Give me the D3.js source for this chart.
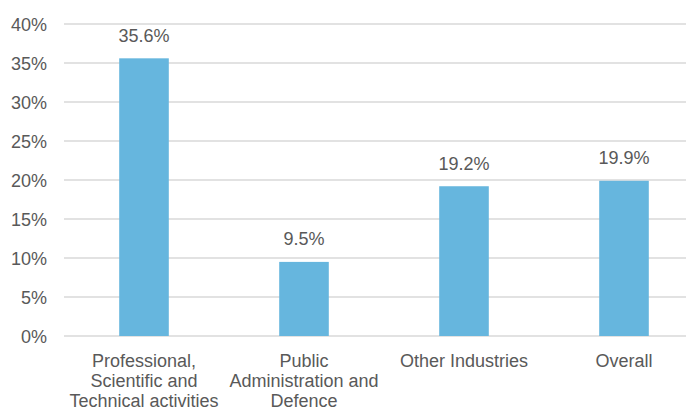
<!DOCTYPE html>
<html><head><meta charset="utf-8">
<script src="https://cdn.jsdelivr.net/npm/d3@7"></script>
<style>body{margin:0;background:#fff}svg{display:block}text{font-family:"Liberation Sans",Arial,sans-serif}</style>
</head><body><svg id="c" width="686" height="408"></svg>
<script>
const categories = [["Professional,","Scientific and","Technical activities"],["Public","Administration and","Defence"],["Other Industries"],["Overall"]];
const values = [35.6, 9.5, 19.2, 19.9];
const yTicks = [0,5,10,15,20,25,30,35,40];

const svg = d3.select("#c");
const x = d3.scaleBand().domain(d3.range(values.length)).range([64,704]).paddingInner(0.69).paddingOuter(0.345);
const y = d3.scaleLinear().domain([0,40]).range([336,24]);

svg.append("g").selectAll("line").data(yTicks).join("line")
  .attr("x1",64).attr("x2",704).attr("y1",d=>y(d)).attr("y2",d=>y(d))
  .attr("stroke","#d9d9d9").attr("stroke-width",1.5);

svg.append("g").selectAll("text").data(yTicks).join("text")
  .attr("x",47).attr("y",d=>y(d)+6.5).attr("text-anchor","end")
  .attr("font-size",18).attr("fill","#595959").text(d=>d+"%");

svg.append("g").selectAll("rect").data(values).join("rect")
  .attr("x",(d,i)=>x(i)).attr("width",x.bandwidth())
  .attr("y",d=>y(d)).attr("height",d=>y(0)-y(d)).attr("fill","#66b6de");

svg.append("g").selectAll("text").data(values).join("text")
  .attr("x",(d,i)=>x(i)+x.bandwidth()/2).attr("y",d=>y(d)-16.5)
  .attr("text-anchor","middle").attr("font-size",18).attr("fill","#595959")
  .text(d=>d.toFixed(1)+"%");

const lab = svg.append("g").selectAll("text").data(categories).join("text")
  .attr("text-anchor","middle").attr("font-size",18).attr("fill","#595959");
lab.each(function(lines,i){
  d3.select(this).selectAll("tspan").data(lines).join("tspan")
    .attr("x",x(i)+x.bandwidth()/2).attr("y",(l,j)=>366.5+j*20).text(l=>l);
});
</script></body></html>
